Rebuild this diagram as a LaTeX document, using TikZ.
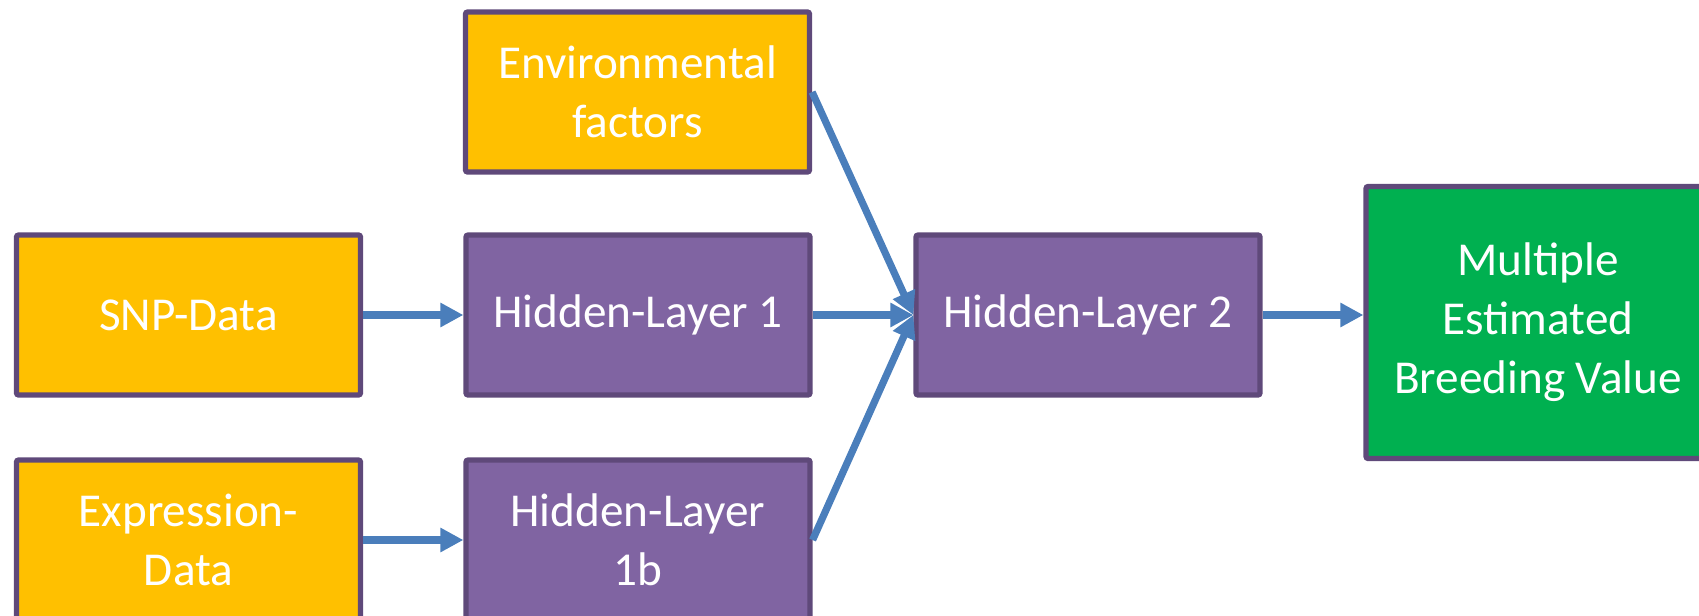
\documentclass[tikz,border=0pt]{standalone}
\usepackage{fontspec}
\setmainfont{Carlito}
\usepackage{xcolor}
\definecolor{boxBorder}{HTML}{5F497A}
\definecolor{inputFill}{HTML}{FFC000}
\definecolor{hiddenFill}{HTML}{8064A2}
\definecolor{outputFill}{HTML}{00B050}
\definecolor{arrowBlue}{HTML}{4A7EBB}
\usepackage{tikz}
\usetikzlibrary{arrows.meta, positioning}

\tikzset{
  layerbox/.style={draw=boxBorder, line width=2.6pt, rounded corners=1pt,
    minimum width=172pt, minimum height=80pt, align=center, text=white,
    font=\fontsize{23.6}{29.5}\selectfont, inner sep=2pt},
  inputbox/.style={layerbox, fill=inputFill},
  hiddenbox/.style={layerbox, fill=hiddenFill},
  outputbox/.style={layerbox, fill=outputFill, minimum height=136pt},
  flow/.style={draw=arrowBlue, line width=3.6pt,
    -{Triangle[length=11.5pt, width=11.5pt]}}
}

\begin{document}
\begin{tikzpicture}[x=0.5pt,y=-0.5pt]
\useasboundingbox (0,0) rectangle (1699,616);
% input layer
\node[inputbox] (envFac) at (637.5,92) {Environmental\\factors};
\node[inputbox] (snpData) at (188.5,315) {SNP-Data};
\node[inputbox] (exprData) at (188.5,540) {Expression-\\Data};
% hidden layers
\node[hiddenbox] (hidOne) at (638,315) {Hidden-Layer 1};
\node[hiddenbox] (hidOneB) at (638,540) {Hidden-Layer\\1b};
\node[hiddenbox] (hidTwo) at (1088,315) {Hidden-Layer 2};
% output
\node[outputbox] (ebvOut) at (1538,322.5) {Multiple\\Estimated\\Breeding Value};
% connections
\draw[flow] (snpData) -- (hidOne);
\draw[flow] (exprData) -- (hidOneB);
\draw[flow] (envFac.east) -- (hidTwo.west);
\draw[flow] (hidOne) -- (hidTwo);
\draw[flow] (hidOneB.east) -- (hidTwo.west);
\draw[flow] (hidTwo.east) -- (ebvOut.west |- hidTwo.east);
\end{tikzpicture}
\end{document}
